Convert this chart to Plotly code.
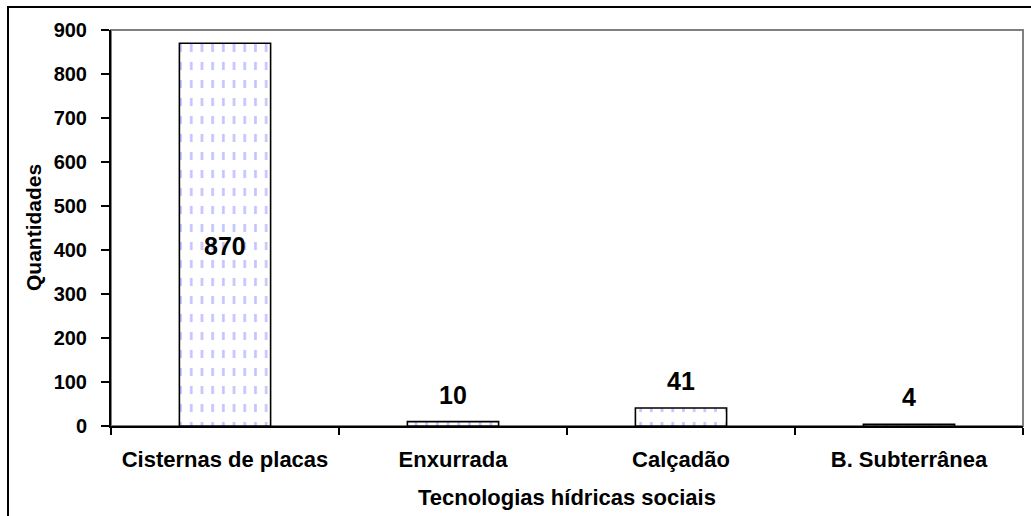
import plotly.graph_objects as go

# Social water technologies and how many of each were counted
categories = ["Cisternas de placas", "Enxurrada", "Calçadão", "B. Subterrânea"]
quantities = [870, 10, 41, 4]
y_ticks = [0, 100, 200, 300, 400, 500, 600, 700, 800, 900]

x_title = "Tecnologias hídricas sociais"
y_title = "Quantidades"

W, H = 1031, 516
L, R, T, B = 111, 8, 30, 90
plot_w = W - L - R
plot_h = H - T - B

FONT = "Liberation Sans, Arial, sans-serif"

fig = go.Figure()

# light blue vertical hatching
fig.add_trace(go.Bar(
    x=categories, y=quantities, width=0.4,
    marker=dict(
        color="white",
        line=dict(width=0),
        pattern=dict(shape="|", fgcolor="#8c8cff", bgcolor="white",
                     size=10.7, solidity=0.25),
    ),
    hoverinfo="skip", showlegend=False,
))
# white horizontal gaps breaking the hatching into dashes, plus the outline
fig.add_trace(go.Bar(
    x=categories, y=quantities, width=0.4,
    marker=dict(
        color="rgba(255,255,255,0)",
        line=dict(width=1.6, color="black"),
        pattern=dict(shape="-", fgcolor="white", bgcolor="rgba(255,255,255,0)",
                     fgopacity=1, size=18, solidity=0.55),
    ),
    showlegend=False,
))

# value labels: inside the tall bar, above the short ones
annotations = []
for cat, q in zip(categories, quantities):
    if q > 200:
        annotations.append(dict(x=cat, y=q / 2, text=f"<b>{q}</b>", showarrow=False,
                                yshift=-11, font=dict(size=25, color="black", family=FONT)))
    else:
        annotations.append(dict(x=cat, y=q, text=f"<b>{q}</b>", showarrow=False,
                                yshift=27, font=dict(size=25, color="black", family=FONT)))

# axis titles
annotations.append(dict(xref="paper", yref="paper", x=0.5, y=-(497 - 426) / plot_h,
                        text=f"<b>{x_title}</b>", showarrow=False,
                        xanchor="center", yanchor="middle",
                        font=dict(size=22, color="black", family=FONT)))
annotations.append(dict(xref="paper", yref="paper", x=(33 - L) / plot_w, y=0.5,
                        text=f"<b>{y_title}</b>", showarrow=False, textangle=-90,
                        xanchor="center", yanchor="middle",
                        font=dict(size=21, color="black", family=FONT)))

shapes = [
    # grey frame of the plot area
    dict(type="rect", xref="paper", yref="paper", x0=0, x1=1, y0=0, y1=1,
         line=dict(color="#808080", width=2), layer="below"),
    # black outer border of the chart
    dict(type="rect", xref="paper", yref="paper",
         x0=(8 - L) / plot_w, x1=(W + 20 - L) / plot_w,
         y0=-(H + 20 - (H - B)) / plot_h, y1=(H - B - 7) / plot_h,
         line=dict(color="black", width=2), layer="below"),
]

fig.update_layout(
    width=W, height=H,
    margin=dict(l=L, r=R, t=T, b=B),
    paper_bgcolor="white", plot_bgcolor="white",
    barmode="overlay",
    font=dict(family=FONT, color="black"),
    annotations=annotations,
    shapes=shapes,
    xaxis=dict(
        type="category",
        categoryorder="array", categoryarray=categories,
        showline=True, linecolor="black", linewidth=2,
        ticks="outside", tickson="boundaries", ticklen=7, tickwidth=1.5, tickcolor="black",
        tickfont=dict(size=22, color="black", family=FONT, weight="bold"),
        ticklabelstandoff=13,
        showgrid=False, zeroline=False,
    ),
    yaxis=dict(
        range=[0, 900],
        tickvals=y_ticks,
        showline=True, linecolor="black", linewidth=2,
        ticks="outside", ticklen=8, tickwidth=1.5, tickcolor="black",
        tickfont=dict(size=20, color="black", family=FONT, weight="bold"),
        ticklabelstandoff=10,
        showgrid=False, zeroline=False,
    ),
)

fig.write_html("out.html")
